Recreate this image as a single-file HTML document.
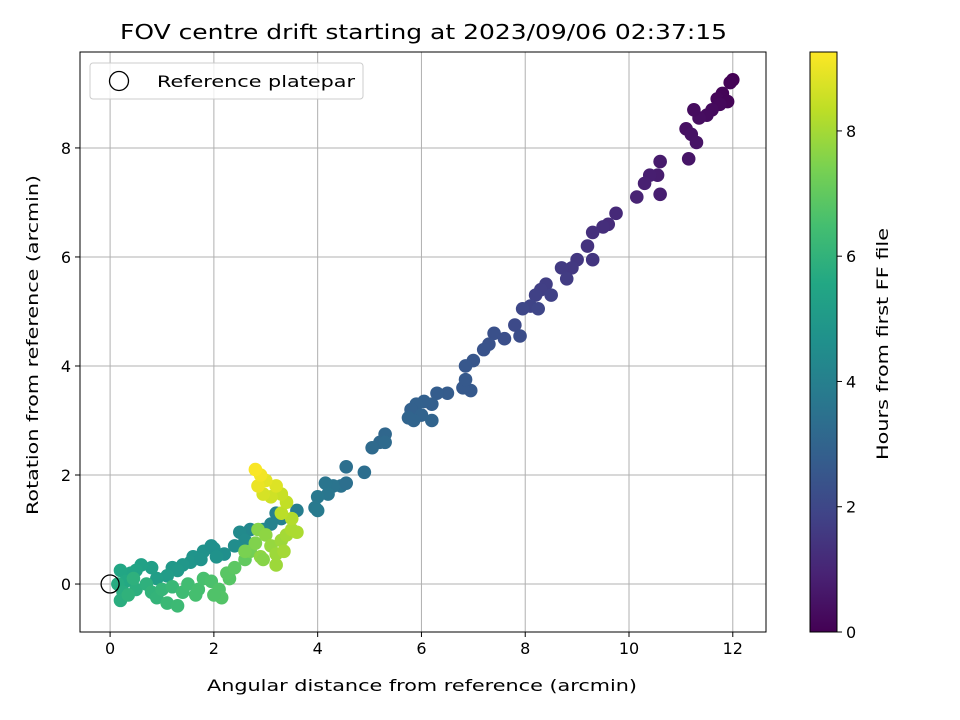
<!DOCTYPE html>
<html><head><meta charset="utf-8"><style>
body{margin:0;background:#fff;}
svg{display:block;font-family:"DejaVu Sans","Liberation Sans",sans-serif;}
</style></head><body>
<svg id="c" width="960" height="720"></svg>
<script>
const xs=[12.0,11.95,11.8,11.7,11.9,11.75,11.6,11.5,11.35,11.25,11.1,11.2,11.3,11.15,10.6,10.55,10.4,10.3,10.6,10.15,
9.75,9.6,9.5,9.3,9.2,9.3,9.0,8.9,8.7,8.8,8.4,8.3,8.2,8.5,8.1,8.25,7.95,
7.8,7.9,7.6,7.4,7.3,7.2,7.0,6.85,6.95,6.8,6.85,6.5,6.3,6.2,6.05,5.9,5.8,6.0,5.85,6.2,5.75,
5.3,5.2,5.05,5.3,4.9,4.55,4.45,4.3,4.15,4.2,4.0,3.95,4.0,4.55,3.6,3.2,3.3,
3.1,2.95,2.7,2.5,2.6,2.4,2.2,2.0,1.8,1.6,1.55,1.4,1.2,1.3,1.75,1.95,2.05,
1.1,0.9,0.8,0.6,0.5,0.4,0.2,0.3,0.15,0.25,0.2,0.5,0.7,0.45,0.35,
0.8,0.9,1.0,1.2,1.1,1.3,1.4,1.5,1.7,1.65,1.8,1.95,2.1,2.15,2.0,2.3,2.25,2.4,2.6,
2.7,2.8,2.85,3.0,2.9,3.1,3.2,3.3,3.35,3.4,3.2,3.5,2.6,2.95,
3.6,3.5,3.3,3.4,3.3,3.1,2.95,3.2,3.0,2.85,2.9,2.8];
const ys=[9.25,9.2,9.0,8.9,8.85,8.8,8.7,8.6,8.55,8.7,8.35,8.25,8.1,7.8,7.75,7.5,7.5,7.35,7.15,7.1,
6.8,6.6,6.55,6.45,6.2,5.95,5.95,5.8,5.8,5.6,5.5,5.4,5.3,5.3,5.1,5.05,5.05,
4.75,4.55,4.5,4.6,4.4,4.3,4.1,4.0,3.55,3.6,3.75,3.5,3.5,3.3,3.35,3.3,3.2,3.1,3.0,3.0,3.05,
2.75,2.6,2.5,2.6,2.05,2.15,1.8,1.8,1.85,1.65,1.6,1.4,1.35,1.85,1.35,1.3,1.2,
1.1,1.0,1.0,0.95,0.8,0.7,0.55,0.65,0.6,0.5,0.4,0.35,0.3,0.25,0.45,0.7,0.5,
0.15,0.1,0.3,0.35,0.25,0.2,0.25,0.05,0.0,-0.15,-0.3,-0.1,0.0,0.1,-0.2,
-0.15,-0.25,-0.1,-0.05,-0.35,-0.4,-0.15,0.0,-0.1,-0.2,0.1,0.05,-0.1,-0.25,-0.2,0.1,0.2,0.3,0.45,
0.6,0.75,1.0,0.9,0.5,0.7,0.55,0.8,0.6,0.9,0.35,1.0,0.6,0.45,
0.95,1.2,1.3,1.5,1.65,1.6,1.65,1.8,1.9,1.8,2.0,2.1];
const hs=[0,0.05,0.1,0.15,0.1,0.2,0.25,0.3,0.35,0.3,0.4,0.45,0.5,0.55,0.7,0.75,0.8,0.85,0.8,0.95,
1.1,1.2,1.25,1.3,1.4,1.45,1.5,1.55,1.6,1.65,1.7,1.75,1.8,1.8,1.9,1.95,2.0,
2.1,2.2,2.25,2.3,2.35,2.4,2.5,2.55,2.6,2.6,2.6,2.7,2.75,2.8,2.85,2.9,2.9,2.95,3.0,3.0,3.0,
3.1,3.15,3.2,3.2,3.35,3.4,3.5,3.55,3.6,3.65,3.7,3.75,3.8,3.4,3.9,4.0,4.05,
4.1,4.2,4.3,4.4,4.45,4.5,4.6,4.65,4.7,4.8,4.85,4.9,4.95,5.0,4.75,4.65,4.7,
5.1,5.2,5.25,5.3,5.4,5.45,5.5,5.6,5.7,5.75,5.8,5.85,5.9,5.9,5.95,
6.0,6.05,6.1,6.2,6.25,6.3,6.35,6.4,6.5,6.5,6.55,6.6,6.7,6.75,6.7,6.8,6.85,6.9,7.0,
7.3,7.5,7.6,7.7,7.7,7.8,7.9,7.9,8.0,8.0,7.9,8.1,7.4,7.6,
8.1,8.2,8.3,8.4,8.5,8.6,8.7,8.8,8.9,9.0,9.1,9.2];
const xTicks=[0,2,4,6,8,10,12], yTicks=[0,2,4,6,8], cTicks=[0,2,4,6,8];
const hMax=9.26;
const L=80,R=766,T=52,B=632, xMin=-0.58,xMax=12.64,yMin=-0.88,yMax=9.76;
const sx=v=>L+(v-xMin)/(xMax-xMin)*(R-L), sy=v=>B-(v-yMin)/(yMax-yMin)*(B-T);
const CL=810,CR=837, sc=v=>B-v/hMax*(B-T);
const vir=[[68,1,84],[72,35,116],[64,67,135],[52,94,141],[41,120,142],[32,144,140],[34,167,132],[68,190,112],[121,209,81],[189,222,38],[253,231,37]];
function col(t){t=Math.max(0,Math.min(1,t))*10;const i=Math.min(9,Math.floor(t)),f=t-i,a=vir[i],b=vir[i+1];
return `rgb(${a.map((v,k)=>Math.round(v+(b[k]-v)*f)).join(',')})`;}
const svg=document.getElementById('c'),NS='http://www.w3.org/2000/svg';
function el(tag,at,txt){const e=document.createElementNS(NS,tag);for(const k in at)e.setAttribute(k,at[k]);if(txt!=null)e.textContent=txt;svg.appendChild(e);return e;}
let e;
xTicks.forEach(v=>{e=el('line',{x1:sx(v),x2:sx(v),y1:T,y2:B,stroke:'#b0b0b0','stroke-width':1});
});
yTicks.forEach(v=>{e=el('line',{x1:L,x2:R,y1:sy(v),y2:sy(v),stroke:'#b0b0b0','stroke-width':1});
});
xs.forEach((x,i)=>{e=el('circle',{cx:sx(x),cy:sy(ys[i]),r:6.8,fill:col(hs[i]/hMax)});
});
e=el('circle',{cx:sx(0),cy:sy(0),r:9,fill:'none',stroke:'#000','stroke-width':1.3});

e=el('rect',{x:L,y:T,width:R-L,height:B-T,fill:'none',stroke:'#000','stroke-width':1});

xTicks.forEach(v=>{el('line',{x1:sx(v),x2:sx(v),y1:B,y2:B+5,stroke:'#000'});
e=el('text',{x:sx(v),y:B+22,'text-anchor':'middle','font-size':16},v);
});
yTicks.forEach(v=>{el('line',{x1:L-5,x2:L,y1:sy(v),y2:sy(v),stroke:'#000'});
e=el('text',{x:L-9,y:sy(v)+6,'text-anchor':'end','font-size':16},v);
});
e=el('text',{x:207,y:691,'font-size':16,textLength:430,lengthAdjust:'spacingAndGlyphs'},'Angular distance from reference (arcmin)');

e=el('text',{x:38,y:515,'font-size':16,textLength:340,lengthAdjust:'spacingAndGlyphs',transform:'rotate(-90 38 515)'},'Rotation from reference (arcmin)');

e=el('text',{x:120,y:39,'font-size':20,textLength:607,lengthAdjust:'spacingAndGlyphs'},'FOV centre drift starting at 2023/09/06 02:37:15');

e=el('rect',{x:90,y:63,width:273,height:36,rx:3,fill:'#fff','fill-opacity':0.8,stroke:'#ccc'});

el('circle',{cx:119,cy:81,r:9.5,fill:'none',stroke:'#000','stroke-width':1.3});
e=el('text',{x:157,y:87,'font-size':16,textLength:198,lengthAdjust:'spacingAndGlyphs'},'Reference platepar');

const defs=el('defs',{});const g=document.createElementNS(NS,'linearGradient');
g.setAttribute('id','vg');g.setAttribute('x1','0');g.setAttribute('y1','1');g.setAttribute('x2','0');g.setAttribute('y2','0');
vir.forEach((c,i)=>{const s=document.createElementNS(NS,'stop');s.setAttribute('offset',i/10);s.setAttribute('stop-color',`rgb(${c})`);g.appendChild(s);});
defs.appendChild(g);
e=el('rect',{x:CL,y:T,width:CR-CL,height:B-T,fill:'url(#vg)',stroke:'#000','stroke-width':1});

cTicks.forEach(v=>{el('line',{x1:CR,x2:CR+5,y1:sc(v),y2:sc(v),stroke:'#000'});
e=el('text',{x:CR+9,y:sc(v)+6,'font-size':16},v);
});
e=el('text',{x:888,y:460,'font-size':16,textLength:232,lengthAdjust:'spacingAndGlyphs',transform:'rotate(-90 888 460)'},'Hours from first FF file');

</script>
</body></html>
